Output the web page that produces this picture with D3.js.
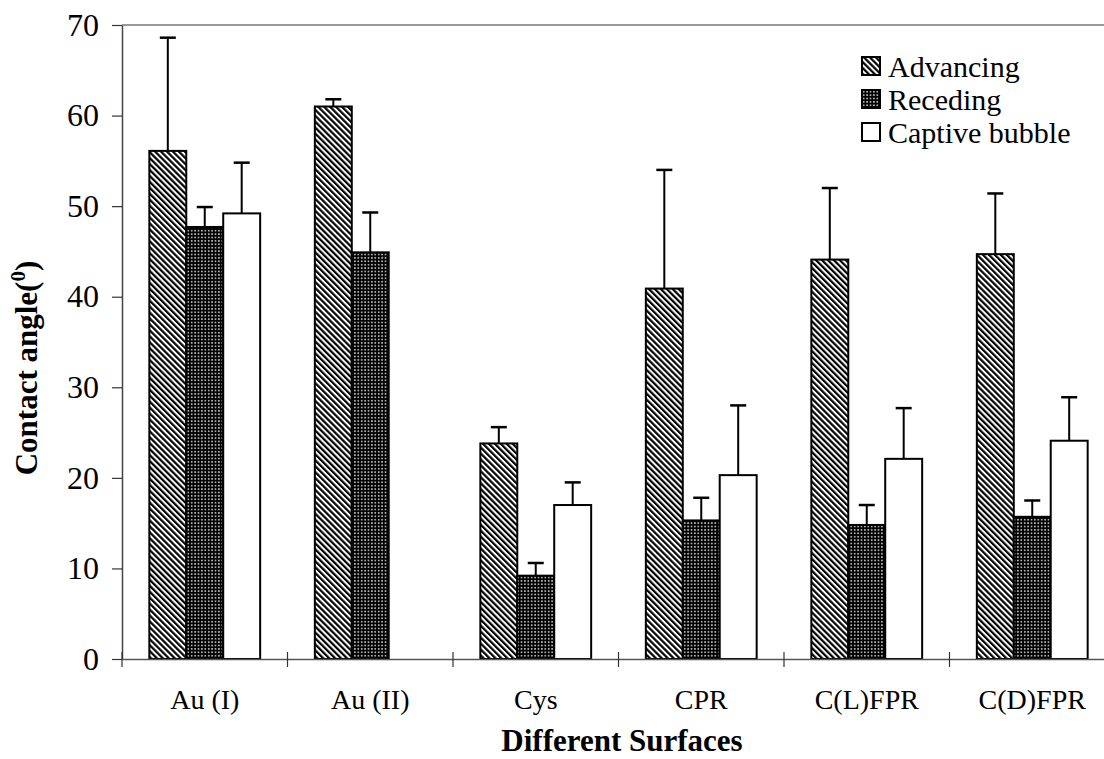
<!DOCTYPE html>
<html>
<head>
<meta charset="utf-8">
<script src="https://cdn.jsdelivr.net/npm/d3@7"></script>
<style>
  body { margin: 0; background: #fff; }
</style>
</head>
<body>
<div id="chart-area"></div>
<script>
const categories = ['Au (I)', 'Au (II)', 'Cys', 'CPR', 'C(L)FPR', 'C(D)FPR']
const series = ['Advancing', 'Receding', 'Captive bubble']

// mean values and upper error bar ends, per series
const advancing = [56.1, 61.0, 23.8, 40.9, 44.1, 44.7]
const advancingErr = [68.6, 61.8, 25.6, 54.0, 52.0, 51.4]
const receding = [47.7, 44.9, 9.2, 15.3, 14.8, 15.7]
const recedingErr = [49.9, 49.3, 10.6, 17.8, 17.0, 17.5]
const captive = [49.2, null, 17.0, 20.3, 22.1, 24.1]
const captiveErr = [54.8, null, 19.5, 28.0, 27.7, 28.9]

const yTicks = [0, 10, 20, 30, 40, 50, 60, 70]

const values = [advancing, receding, captive]
const errors = [advancingErr, recedingErr, captiveErr]
const fills = ['url(#hatch)', 'url(#dots)', '#fff']
const serif = '"Liberation Serif", "Times New Roman", Times, serif'

const margin = { left: 122, top: 25, right: -11, bottom: 100 }
const W = 1104, H = 759
const width = W - margin.left - margin.right
const height = H - margin.top - margin.bottom

const svg = d3.select('#chart-area').append('svg')
    .attr('width', W)
    .attr('height', H)

const defs = svg.append('defs')
const hatch = defs.append('pattern')
    .attr('id', 'hatch')
    .attr('patternUnits', 'userSpaceOnUse')
    .attr('width', 4.2).attr('height', 4.2)
    .attr('patternTransform', 'rotate(-45)')
hatch.append('rect').attr('width', 4.2).attr('height', 4.2).attr('fill', '#fff')
hatch.append('rect').attr('width', 2.2).attr('height', 4.2).attr('fill', '#000')

const dots = defs.append('pattern')
    .attr('id', 'dots')
    .attr('patternUnits', 'userSpaceOnUse')
    .attr('width', 3.4).attr('height', 3.4)
dots.append('rect').attr('width', 3.4).attr('height', 3.4).attr('fill', '#000')
dots.append('rect').attr('x', 1).attr('y', 1).attr('width', 1.4).attr('height', 1.4).attr('fill', '#fff')

const g = svg.append('g')
    .attr('transform', `translate(${margin.left}, ${margin.top})`)

const x0 = d3.scaleBand()
    .domain(categories)
    .range([0, width])
    .padding(0)

const x1 = d3.scaleBand()
    .domain(series)
    .range([0, x0.bandwidth()])
    .paddingInner(0)
    .paddingOuter(0.74)

const y = d3.scaleLinear()
    .domain([0, 70])
    .range([height, 0])

// top frame line
g.append('line')
    .attr('x1', 0).attr('x2', width)
    .attr('y1', 0).attr('y2', 0)
    .attr('stroke', '#777')
    .attr('stroke-width', 1.5)

// bars
series.forEach((s, i) => {
    const rows = categories.map((c, j) => ({ c, v: values[i][j], e: errors[i][j] }))
        .filter(d => d.v != null)

    g.selectAll('.bar-' + i)
        .data(rows).enter().append('rect')
        .attr('class', 'bar-' + i)
        .attr('x', d => x0(d.c) + x1(s))
        .attr('y', d => y(d.v))
        .attr('width', x1.bandwidth())
        .attr('height', d => height - y(d.v))
        .attr('fill', fills[i])
        .attr('stroke', '#000')
        .attr('stroke-width', 2)

    const eb = g.selectAll('.err-' + i)
        .data(rows).enter().append('g')
        .attr('class', 'err-' + i)
        .attr('transform', d => `translate(${x0(d.c) + x1(s) + x1.bandwidth() / 2}, 0)`)
    eb.append('line')
        .attr('y1', d => y(d.v)).attr('y2', d => y(d.e))
        .attr('stroke', '#000').attr('stroke-width', 2)
    eb.append('line')
        .attr('x1', -8).attr('x2', 8)
        .attr('y1', d => y(d.e)).attr('y2', d => y(d.e))
        .attr('stroke', '#000').attr('stroke-width', 2.5)
})

// y axis
const yAxisCall = d3.axisLeft(y)
    .tickValues(yTicks)
    .tickSizeInner(10)
    .tickSizeOuter(0)
    .tickPadding(13)
const yAxis = g.append('g')
    .attr('class', 'y axis')
    .call(yAxisCall)
yAxis.select('.domain').attr('stroke', '#444').attr('stroke-width', 1.5)
yAxis.selectAll('.tick line').attr('stroke', '#333').attr('stroke-width', 1.2)
yAxis.selectAll('text')
    .style('font-family', serif)
    .style('font-size', '32px')
    .attr('fill', '#000')

// x axis: labels centred in bands, ticks at band edges
const xAxisCall = d3.axisBottom(x0).tickSize(0).tickPadding(30).tickSizeOuter(0)
const xAxis = g.append('g')
    .attr('class', 'x axis')
    .attr('transform', `translate(0, ${height})`)
    .call(xAxisCall)
xAxis.select('.domain').attr('stroke', '#555').attr('stroke-width', 1.5)
xAxis.selectAll('text')
    .style('font-family', serif)
    .style('font-size', '28px')
    .attr('fill', '#000')

xAxis.selectAll('.edge')
    .data(categories).enter().append('line')
    .attr('class', 'edge')
    .attr('x1', d => x0(d)).attr('x2', d => x0(d))
    .attr('y1', -7).attr('y2', 8)
    .attr('stroke', '#333').attr('stroke-width', 1.2)

// axis titles
g.append('text')
    .attr('x', 500)
    .attr('y', height + 92)
    .style('font-family', serif)
    .style('font-size', '31px')
    .style('font-weight', 'bold')
    .attr('text-anchor', 'middle')
    .text('Different Surfaces')

const yLabel = g.append('text')
    .attr('x', -(height / 2) - 26)
    .attr('y', -85)
    .style('font-family', serif)
    .style('font-size', '31px')
    .style('font-weight', 'bold')
    .attr('text-anchor', 'middle')
    .attr('transform', 'rotate(-90)')
yLabel.append('tspan').text('Contact angle(')
yLabel.append('tspan').attr('dy', -12).style('font-size', '21px').text('0')
yLabel.append('tspan').attr('dy', 12).text(')')

// legend
const legend = svg.append('g')
    .attr('transform', 'translate(862, 57)')
series.forEach((s, i) => {
    const row = legend.append('g').attr('transform', `translate(0, ${i * 33})`)
    row.append('rect')
        .attr('width', 18).attr('height', 18)
        .attr('fill', fills[i])
        .attr('stroke', '#000')
        .attr('stroke-width', 2)
    row.append('text')
        .attr('x', 26)
        .attr('y', 9)
        .attr('dy', '0.35em')
        .style('font-family', serif)
        .style('font-size', '30px')
        .text(s)
})
</script>
</body>
</html>
